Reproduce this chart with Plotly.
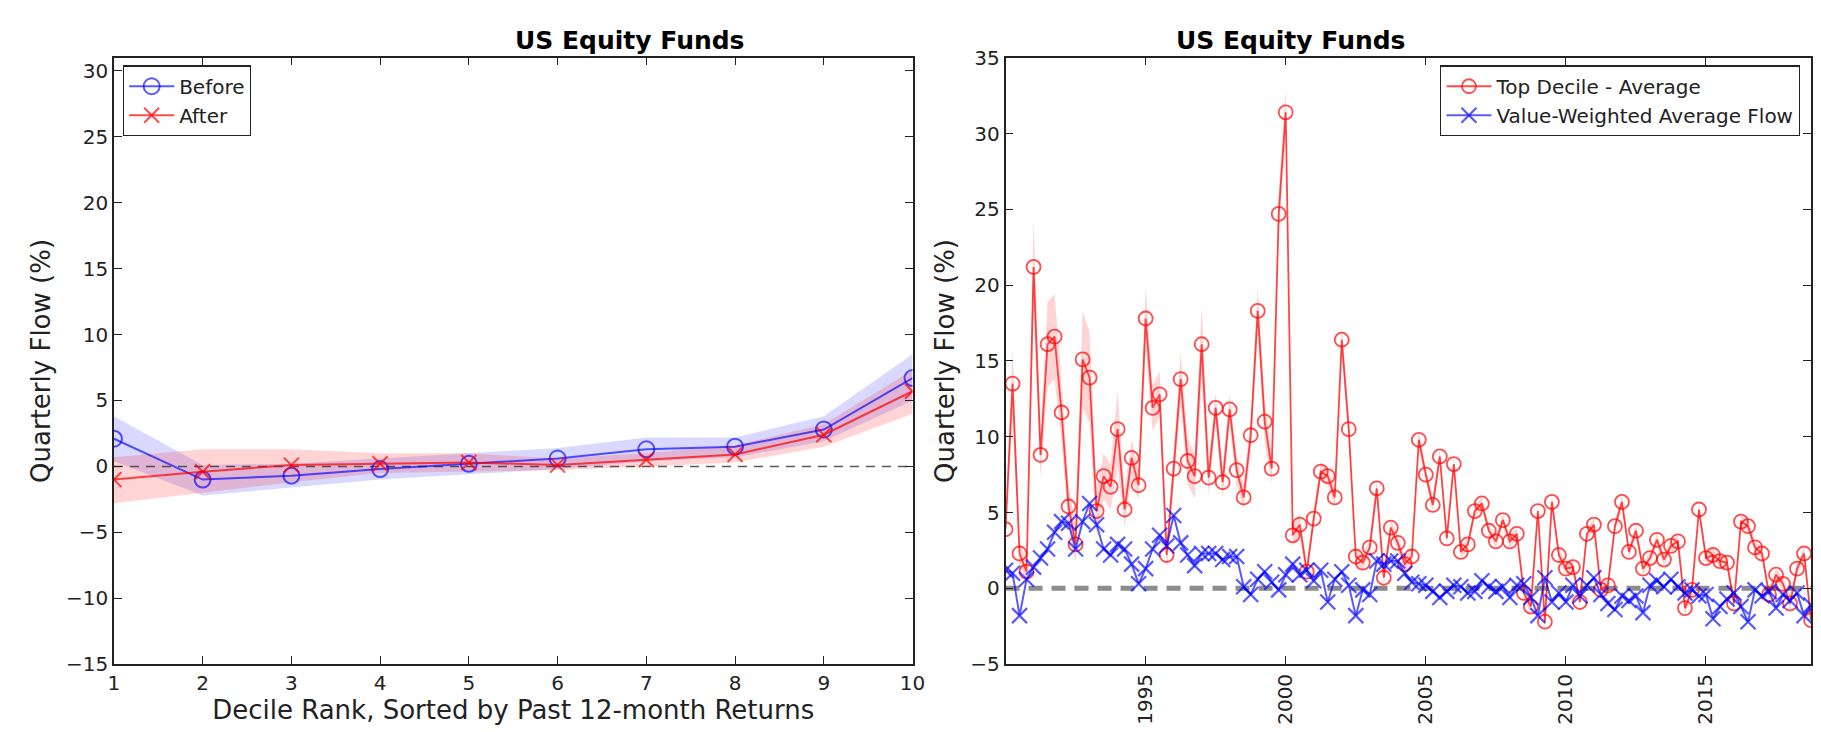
import plotly.graph_objects as go

# ---------------- Left panel data ----------------
deciles = [1, 2, 3, 4, 5, 6, 7, 8, 9, 10]
before = [2.1, -1.0, -0.7, -0.2, 0.2, 0.6, 1.3, 1.5, 2.8, 6.7]
before_lo = [0.4, -2.2, -1.6, -1.0, -0.6, -0.2, 0.4, 0.7, 1.9, 5.0]
before_hi = [3.8, 0.1, 0.2, 0.6, 1.0, 1.4, 2.2, 2.2, 3.8, 8.5]
after = [-1.0, -0.4, 0.1, 0.2, 0.3, 0.1, 0.5, 0.9, 2.4, 5.7]
after_lo = [-2.8, -2.0, -1.2, -0.5, -0.4, -0.3, 0.0, 0.3, 1.5, 4.0]
after_hi = [0.7, 1.3, 1.3, 1.0, 1.0, 0.6, 1.0, 1.6, 3.2, 7.3]

# ---------------- Right panel data ----------------
years = [1990 + 0.25 * i for i in range(116)]
top_decile = [
    3.9, 13.5, 2.3, 1.1, 21.2, 8.8, 16.1, 16.6, 11.6, 5.4, 2.9, 15.1,
    13.9, 5.1, 7.4, 6.7, 10.5, 5.2, 8.6, 6.8, 17.8, 11.9, 12.8, 2.2,
    7.9, 13.8, 8.4, 7.4, 16.1, 7.3, 11.9, 7.0, 11.8, 7.8, 6.0, 10.1,
    18.3, 11.0, 7.9, 24.7, 31.4, 3.5, 4.2, 1.1, 4.6, 7.7, 7.4, 6.0,
    16.4, 10.5, 2.1, 1.7, 2.7, 6.6, 0.7, 4.0, 3.0, 1.6, 2.1, 9.8,
    7.5, 5.5, 8.7, 3.3, 8.2, 2.4, 2.9, 5.1, 5.6, 3.8, 3.1, 4.5,
    3.1, 3.6, -0.3, -1.2, 5.1, -2.2, 5.7, 2.2, 1.3, 1.4, -0.9, 3.6,
    4.2, -0.1, 0.2, 4.1, 5.7, 2.4, 3.8, 1.3, 2.0, 3.2, 1.9, 2.8,
    3.1, -1.3, -0.1, 5.2, 2.0, 2.2, 1.8, 1.7, -1.0, 4.4, 4.1, 2.7,
    2.3, -0.4, 0.9, 0.3, -1.0, 1.3, 2.3, -2.1,
]
top_decile_err = [
    0.5, 2.4, 0.8, 0.6, 3.2, 1.5, 2.8, 2.8, 2.0, 1.5, 1.2, 3.2,
    3.0, 1.5, 1.5, 1.5, 2.5, 1.2, 1.2, 1.0, 2.1, 1.5, 1.5, 1.0,
    1.2, 1.7, 1.5, 1.5, 2.5, 1.2, 1.0, 1.0, 1.0, 1.0, 0.8, 1.2,
    1.5, 1.5, 1.0, 1.5, 1.5, 0.7, 0.7, 0.5, 0.6, 0.6, 0.6, 0.6,
    1.0, 0.8, 0.5, 0.5, 0.5, 0.6, 0.5, 0.5, 0.5, 0.5, 0.5, 0.6,
    0.5, 0.5, 0.5, 0.5, 0.5, 0.4, 0.4, 0.4, 0.4, 0.4, 0.4, 0.4,
    0.4, 0.4, 0.4, 0.5, 0.5, 0.7, 0.5, 0.4, 0.4, 0.4, 0.4, 0.4,
    0.4, 0.4, 0.4, 0.4, 0.4, 0.4, 0.4, 0.4, 0.4, 0.4, 0.4, 0.4,
    0.4, 0.4, 0.4, 0.4, 0.4, 0.4, 0.4, 0.4, 0.4, 0.4, 0.4, 0.4,
    0.4, 0.4, 0.4, 0.4, 0.4, 0.4, 0.4, 0.4,
]
vw_flow = [
    1.2, 1.0, -1.8, 0.6, 1.4, 2.0, 2.6, 3.7, 4.4, 4.3, 2.6, 4.4,
    5.6, 4.2, 2.6, 2.2, 2.9, 2.6, 1.6, 0.3, 1.3, 2.6, 3.5, 2.8,
    4.8, 3.0, 2.2, 1.5, 2.3, 2.3, 2.3, 1.9, 2.1, 2.1, 0.1, -0.4,
    0.6, 1.1, 0.4, -0.1, 0.9, 1.6, 0.9, 1.2, 0.5, 1.2, -0.9, 0.6,
    1.1, 0.2, -1.8, -0.1, -0.4, 1.8, 1.6, 1.8, 1.8, 1.0, 0.4, 0.3,
    0.2, -0.2, -0.6, -0.2, 0.2, 0.1, -0.3, -0.2, 0.5, 0.1, -0.2, 0.1,
    -0.6, 0.2, 0.3, -0.6, -1.8, 0.7, -0.9, -0.3, -0.9, 0.2, -0.5, 0.2,
    0.7, -0.4, -1.0, -1.4, -0.5, -0.8, -0.5, -1.6, 0.2, 0.5, 0.1, 0.6,
    0.1, -0.3, -0.1, -0.5, -0.4, -2.0, -1.2, -0.7, -0.3, -1.2, -2.2, -0.1,
    -0.5, -0.2, -1.3, -0.4, -0.8, -0.3, -1.8, -1.1,
]

left_xticks = [1, 2, 3, 4, 5, 6, 7, 8, 9, 10]
left_yticks = [-15, -10, -5, 0, 5, 10, 15, 20, 25, 30]
right_xticks = [1995, 2000, 2005, 2010, 2015]
right_yticks = [-5, 0, 5, 10, 15, 20, 25, 30, 35]

BLUE = "rgba(0,0,255,0.65)"
RED = "rgba(255,0,0,0.7)"
BLUE_FILL = "rgba(0,0,255,0.15)"
RED_FILL = "rgba(255,0,0,0.17)"
FONT = "DejaVu Sans"

fig = go.Figure()

# Left panel bands
fig.add_trace(go.Scatter(x=deciles, y=before_hi, mode="lines", line=dict(width=0),
                         showlegend=False, hoverinfo="skip", xaxis="x", yaxis="y"))
fig.add_trace(go.Scatter(x=deciles, y=before_lo, mode="lines", line=dict(width=0),
                         fill="tonexty", fillcolor=BLUE_FILL,
                         showlegend=False, hoverinfo="skip", xaxis="x", yaxis="y"))
fig.add_trace(go.Scatter(x=deciles, y=after_hi, mode="lines", line=dict(width=0),
                         showlegend=False, hoverinfo="skip", xaxis="x", yaxis="y"))
fig.add_trace(go.Scatter(x=deciles, y=after_lo, mode="lines", line=dict(width=0),
                         fill="tonexty", fillcolor=RED_FILL,
                         showlegend=False, hoverinfo="skip", xaxis="x", yaxis="y"))
# zero line left
fig.add_trace(go.Scatter(x=[1, 10], y=[0, 0], mode="lines",
                         line=dict(color="rgba(60,60,60,0.85)", width=1.5, dash="9px,7px"),
                         showlegend=False, hoverinfo="skip", xaxis="x", yaxis="y"))
fig.add_trace(go.Scatter(x=deciles, y=before, mode="lines+markers", name="Before",
                         line=dict(color=BLUE, width=2),
                         marker=dict(symbol="circle-open", size=16, color=BLUE,
                                     line=dict(width=2, color=BLUE)),
                         xaxis="x", yaxis="y", legend="legend"))
fig.add_trace(go.Scatter(x=deciles, y=after, mode="lines+markers", name="After",
                         line=dict(color=RED, width=2),
                         marker=dict(symbol="x-thin-open", size=15, color=RED,
                                     line=dict(width=2, color=RED)),
                         xaxis="x", yaxis="y", legend="legend"))

# Right panel band
red_hi = [v + e for v, e in zip(top_decile, top_decile_err)]
red_lo = [v - e for v, e in zip(top_decile, top_decile_err)]
fig.add_trace(go.Scatter(x=years, y=red_hi, mode="lines", line=dict(width=0),
                         showlegend=False, hoverinfo="skip", xaxis="x2", yaxis="y2"))
fig.add_trace(go.Scatter(x=years, y=red_lo, mode="lines", line=dict(width=0),
                         fill="tonexty", fillcolor=RED_FILL,
                         showlegend=False, hoverinfo="skip", xaxis="x2", yaxis="y2"))
fig.add_trace(go.Scatter(x=[years[0], years[-1]], y=[0, 0], mode="lines",
                         line=dict(color="rgba(128,128,128,0.9)", width=5, dash="14px,9px"),
                         showlegend=False, hoverinfo="skip", xaxis="x2", yaxis="y2"))
fig.add_trace(go.Scatter(x=years, y=top_decile, mode="lines+markers", name="Top Decile - Average",
                         line=dict(color=RED, width=1.8),
                         marker=dict(symbol="circle-open", size=14, color=RED,
                                     line=dict(width=1.8, color=RED)),
                         xaxis="x2", yaxis="y2", legend="legend2"))
fig.add_trace(go.Scatter(x=years, y=vw_flow, mode="lines+markers", name="Value-Weighted Average Flow",
                         line=dict(color=BLUE, width=2),
                         marker=dict(symbol="x-thin-open", size=15, color=BLUE,
                                     line=dict(width=2.2, color=BLUE)),
                         xaxis="x2", yaxis="y2", legend="legend2"))

W, H = 1821, 732
ydom = [1 - 666 / H, 1 - 39 / H]
axis_common = dict(showline=True, linecolor="#222", linewidth=1.5, mirror="allticks",
                   ticks="inside", ticklen=8, tickcolor="#222", tickwidth=1.2,
                   showgrid=False, zeroline=False,
                   tickfont=dict(family=FONT, size=20, color="#222"))

LABEL_FONT = dict(family=FONT, size=26, color="#222")
LEG_FONT = dict(family=FONT, size=20, color="#222")
TITLE_FONT = dict(family=FONT, size=25, color="black")

fig.update_layout(
    width=W, height=H,
    margin=dict(l=0, r=0, t=0, b=0),
    paper_bgcolor="white", plot_bgcolor="white",
    font=dict(family=FONT, color="#222"),
    xaxis=dict(domain=[101 / W, 908 / W], range=[1, 10], tickvals=left_xticks,
               anchor="y",
               title=dict(text="Decile Rank, Sorted by Past 12-month Returns",
                          font=LABEL_FONT, standoff=4),
               **axis_common),
    yaxis=dict(domain=ydom, range=[-15, 31], tickvals=left_yticks, anchor="x",
               title=dict(text="Quarterly Flow (%)", font=LABEL_FONT, standoff=8),
               **axis_common),
    xaxis2=dict(domain=[1002 / W, 1816 / W], range=[1990, 2018.75], tickvals=right_xticks,
                anchor="y2", tickangle=-90,
                **axis_common),
    yaxis2=dict(domain=ydom, range=[-5, 35], tickvals=right_yticks, anchor="x2",
                title=dict(text="Quarterly Flow (%)", font=LABEL_FONT, standoff=8),
                **axis_common),
    legend=dict(x=110 / W, y=1 - 47 / H, xanchor="left", yanchor="top",
                bordercolor="#222", borderwidth=1.3, bgcolor="white",
                font=LEG_FONT, itemwidth=45, tracegroupgap=2, traceorder="normal"),
    legend2=dict(x=1805 / W, y=1 - 47 / H, xanchor="right", yanchor="top",
                 bordercolor="#222", borderwidth=1.3, bgcolor="white",
                 font=LEG_FONT, itemwidth=45, tracegroupgap=2, traceorder="normal"),
    annotations=[
        dict(text="<b>US Equity Funds</b>", x=(101 + 908) / 2 / W, y=1 - 21 / H,
             xref="paper", yref="paper", showarrow=False,
             font=TITLE_FONT, yanchor="middle"),
        dict(text="<b>US Equity Funds</b>", x=(1002 + 1816) / 2 / W, y=1 - 21 / H,
             xref="paper", yref="paper", showarrow=False,
             font=TITLE_FONT, yanchor="middle"),
    ],
)

fig.write_html("out.html")
